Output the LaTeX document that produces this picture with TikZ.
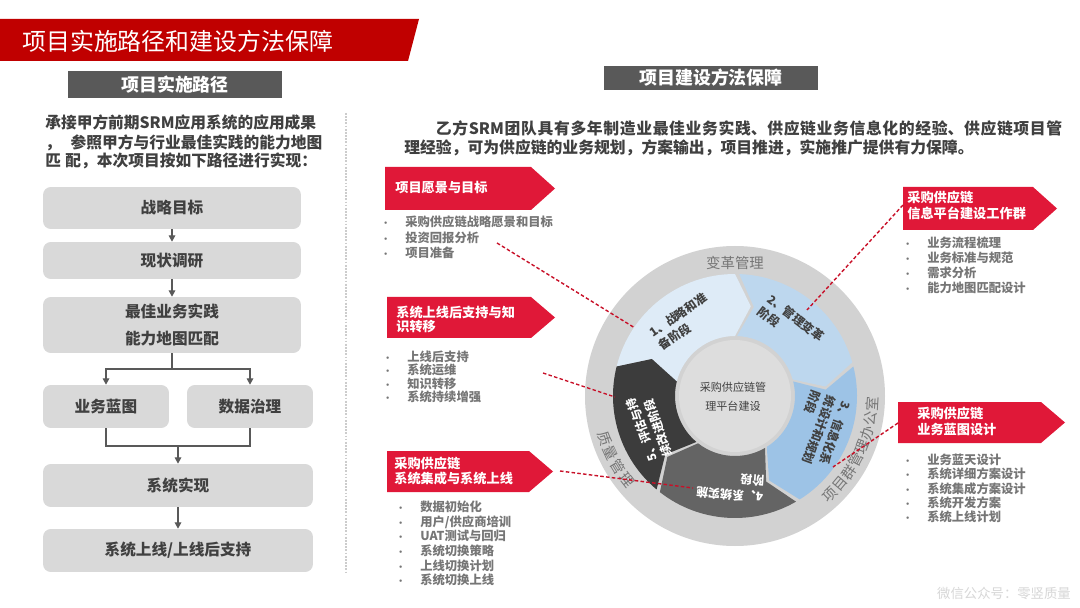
\documentclass[tikz,border=0pt]{standalone}
\usepackage{fontspec}
\setmainfont{Noto Sans CJK SC}
\usetikzlibrary{arrows.meta}
\XeTeXlinebreaklocale "zh"
\XeTeXlinebreakskip=0pt plus 1pt
\definecolor{titlered}{RGB}{192,0,0}
\definecolor{hdrgray}{RGB}{89,89,89}
\definecolor{boxgray}{RGB}{217,217,217}
\definecolor{txtdark}{RGB}{64,64,64}
\definecolor{txtgray}{RGB}{118,118,118}
\definecolor{calred}{RGB}{224,24,56}
\definecolor{dashred}{RGB}{200,16,40}
\definecolor{segA}{RGB}{222,235,247}
\definecolor{segB}{RGB}{189,215,238}
\definecolor{segC}{RGB}{157,195,230}
\definecolor{segD}{RGB}{100,100,100}
\definecolor{segE}{RGB}{60,60,60}
\definecolor{ringgray}{RGB}{210,210,210}
\definecolor{centergray}{RGB}{221,221,221}
\definecolor{wmgray}{RGB}{215,215,215}
\newcommand{\fsz}[2]{\fontsize{#1pt}{#2pt}\selectfont}
\newcommand{\bul}{\makebox[0.48cm][l]{\fsz{5}{5}•}}
\newcommand{\callshape}[4]{\fill[calred] (#1,#2) -- ({#3-24},#2) -- (#3,{(#2+#4)/2}) -- ({#3-24},#4) -- (#1,#4) -- cycle;}
\newcommand{\ringseg}[3]{\fill[#3] (#1:60) -- ({#1-10}:91) -- (#1:122) arc[start angle=#1, end angle=#2, radius=122] -- ({#2-10}:91) -- (#2:60) arc[start angle=#2, end angle=#1, radius=60] -- cycle;}
\tikzset{
  flowbox/.style={fill=boxgray, rounded corners=4.5pt, inner sep=0, align=center, font=\bfseries\fsz{8.9}{15.3}, text=txtdark},
  arr/.style={draw=hdrgray, line width=0.6pt, -{Triangle[length=3.6pt,width=3.8pt]}},
  flow/.style={draw=hdrgray, line width=0.6pt},
  hdrtext/.style={text=white, font=\bfseries\fsz{10.2}{12}, inner sep=0},
  lpara/.style={anchor=west, inner sep=0, text=txtdark, font=\bfseries\fsz{8.95}{10}},
  callhead/.style={anchor=west, inner sep=0, align=left, text=white, font=\bfseries\fsz{7.5}{9.1}},
  bullets/.style={anchor=west, inner sep=0, align=left, text=txtgray, font=\bfseries\fsz{7}{8.5}},
  conn/.style={draw=dashred, line width=0.8pt, dash pattern=on 2pt off 1.3pt},
  segtext/.style={inner sep=0, align=left, font=\bfseries\fsz{6.8}{9}},
  ringlbl/.style={inner sep=0, text=txtgray, font=\fsz{8.2}{9}}
}
\begin{document}
\begin{tikzpicture}[x=0.02cm,y=-0.02cm]
\useasboundingbox (0,0) rectangle (1080,608);
\fill[white] (0,0) rectangle (1080,608);
% title
\fill[titlered] (0,19) -- (419,19) -- (408,61) -- (0,61) -- cycle;
\node[anchor=west, inner sep=0, text=white, font=\fsz{13.6}{16}] (title) at (22,41) {项目实施路径和建设方法保障};
% headers
\fill[hdrgray] (68,71) rectangle (282,98);
\node[hdrtext] (hdrL) at (175,85) {项目实施路径};
\fill[hdrgray] (604,66) rectangle (818,90);
\node[hdrtext] (hdrR) at (711,78) {项目建设方法保障};
% left paragraph
\node[lpara] (lp1) at (45,123) {承接甲方前期SRM应用系统的应用成果};
\node[lpara] (lp2) at (45,143) {，\hspace{5.5pt}参照甲方与行业最佳实践的能力地图};
\node[lpara] (lp3) at (45,161) {匹\hspace{2.5pt}配，本次项目按如下路径进行实现：};
% flowchart
\node[flowbox, minimum width=5.16cm, minimum height=0.84cm] (b1) at (172,208) {战略目标};
\node[flowbox, minimum width=5.16cm, minimum height=0.74cm] (b2) at (172,260.5) {现状调研};
\node[flowbox, minimum width=5.16cm, minimum height=1.12cm] (b3) at (172,325) {最佳业务实践\\能力地图匹配};
\node[flowbox, minimum width=2.52cm, minimum height=0.86cm] (b4) at (106,406.5) {业务蓝图};
\node[flowbox, minimum width=2.52cm, minimum height=0.86cm] (b5) at (250,406.5) {数据治理};
\node[flowbox, minimum width=5.4cm, minimum height=0.86cm] (b6) at (178,485.5) {系统实现};
\node[flowbox, minimum width=5.4cm, minimum height=0.86cm] (b7) at (178,550.5) {系统上线/上线后支持};
\draw[arr] (b1) -- (b2);
\draw[arr] (b2) -- (b3);
\coordinate (s1) at (172,369);
\draw[flow] (b3.south) -- (s1);
\draw[arr] (s1) -| (b4.north);
\draw[arr] (s1) -| (b5.north);
\coordinate (m1) at (178,446);
\draw[flow] (b4.south) |- (m1);
\draw[flow] (b5.south) |- (m1);
\draw[arr] (m1) -- (b6.north);
\draw[arr] (b6) -- (b7);
% divider
\coordinate (dv1) at (346,113);
\coordinate (dv2) at (346,572);
\draw[draw=gray!40, line width=0.6pt, dash pattern=on 1pt off 0.8pt] (dv1) -- (dv2);
% right paragraph
\node[anchor=north west, inner sep=0, text width=13.16cm, align=justify, text=txtdark, font=\bfseries\fsz{9}{10.8}] (rpara) at (404,120)
 {\hspace*{2em}乙方SRM团队具有多年制造业最佳业务实践、供应链业务信息化的经验、供应链项目管\linebreak 理经验，可为供应链的业务规划，方案输出，项目推进，实施推广提供有力保障。};
% circle
\begin{scope}[shift={(735,396)}, yscale=-1]
  \fill[ringgray] (0,0) circle[radius=150];
  \ringseg{166}{90}{segA}
  \ringseg{88}{16}{segB}
  \ringseg{14}{-58}{segC}
  \ringseg{-60}{-128}{segD}
  \ringseg{-130}{-194}{segE}
  \fill[centergray] (0,0) circle[radius=56];
  \node[inner sep=0, align=center, text=txtdark, font=\fsz{6.3}{11}] (ctr) at (-2,-1) {采购供应链管\\理平台建设};
  \node[segtext, text=txtdark, rotate=35] (sg1) at (125:91) {1、战略和准\\备阶段};
  \node[segtext, text=txtdark, rotate=-38] (sg2) at (52:91) {2、管理变革\\阶段};
  \node[segtext, text=txtdark, rotate=-110] (sg3) at (-22:91) {3、信息化系\\统设计和规划\\阶段};
  \node[segtext, text=white, rotate=176] (sg4) at (-93:91) {4、系统实施\\阶段};
  \node[segtext, text=white, rotate=110] (sg5) at (200:91) {5、评估与持\\续改进阶段};
  \node[ringlbl] (rtop) at (90:133) {变革管理};
  \foreach \ch [count=\i] in {项,目,群,管,理,办,公,室} {
    \pgfmathsetmacro{\ang}{-46+(\i-1)*6.1}
    \node[ringlbl, rotate=\ang+90] (rr\i) at (\ang:137) {\ch};
  }
  \foreach \ch [count=\i] in {质,量,管,理} {
    \pgfmathsetmacro{\ang}{198+(\i-1)*6.6}
    \node[ringlbl, rotate=\ang+90] (rl\i) at (\ang:137) {\ch};
  }
\end{scope}
% callouts
\callshape{385}{167}{555}{210}
\node[callhead] (c1) at (395,188) {项目愿景与目标};
\node[bullets, font=\bfseries\fsz{7}{8.8}] (l1) at (381,237.5) {\bul 采购供应链战略愿景和目标\\\bul 投资回报分析\\\bul 项目准备};
\callshape{387}{297}{555}{338}
\node[callhead, font=\bfseries\fsz{7.5}{8}] (c2) at (396,319) {系统上线后支持与知\\识转移};
\node[bullets, font=\bfseries\fsz{7}{7.7}] (l2) at (383,377) {\bul 上线后支持\\\bul 系统运维\\\bul 知识转移\\\bul 系统持续增强};
\callshape{387}{451}{553}{492}
\node[callhead] (c3) at (394,471) {采购供应链\\系统集成与系统上线};
\node[bullets, font=\bfseries\fsz{7}{8.3}] (l3) at (396,543.5) {\bul 数据初始化\\\bul 用户/供应商培训\\\bul UAT测试与回归\\\bul 系统切换策略\\\bul 上线切换计划\\\bul 系统切换上线};
\callshape{903}{187}{1057}{230}
\node[callhead] (c4) at (907,205) {采购供应链\\信息平台建设工作群};
\node[bullets, font=\bfseries\fsz{7}{8.5}] (l4) at (903,265.5) {\bul 业务流程梳理\\\bul 业务标准与规范\\\bul 需求分析\\\bul 能力地图匹配设计};
\callshape{898}{402}{1065}{443}
\node[callhead] (c5) at (917,421) {采购供应链\\业务蓝图设计};
\node[bullets, font=\bfseries\fsz{7}{8.1}] (l5) at (903,488.5) {\bul 业务蓝天设计\\\bul 系统详细方案设计\\\bul 系统集成方案设计\\\bul 系统开发方案\\\bul 系统上线计划};
% dashed connectors
\coordinate (d1a) at (497,243); \coordinate (d1b) at (635,328);
\coordinate (d2a) at (543,373); \coordinate (d2b) at (615,397);
\coordinate (d3a) at (560,471); \coordinate (d3b) at (693,488);
\coordinate (d4a) at (903,205); \coordinate (d4b) at (807,310);
\coordinate (d5a) at (898,423); \coordinate (d5b) at (833,467);
\draw[conn] (d1a) -- (d1b);
\draw[conn] (d2a) -- (d2b);
\draw[conn] (d3a) -- (d3b);
\draw[conn] (d4a) -- (d4b);
\draw[conn] (d5a) -- (d5b);
% watermark
\node[inner sep=0, text=wmgray, font=\fsz{7.6}{9}] (wm) at (1004,593) {微信公众号：零竖质量};
\end{tikzpicture}
\end{document}
